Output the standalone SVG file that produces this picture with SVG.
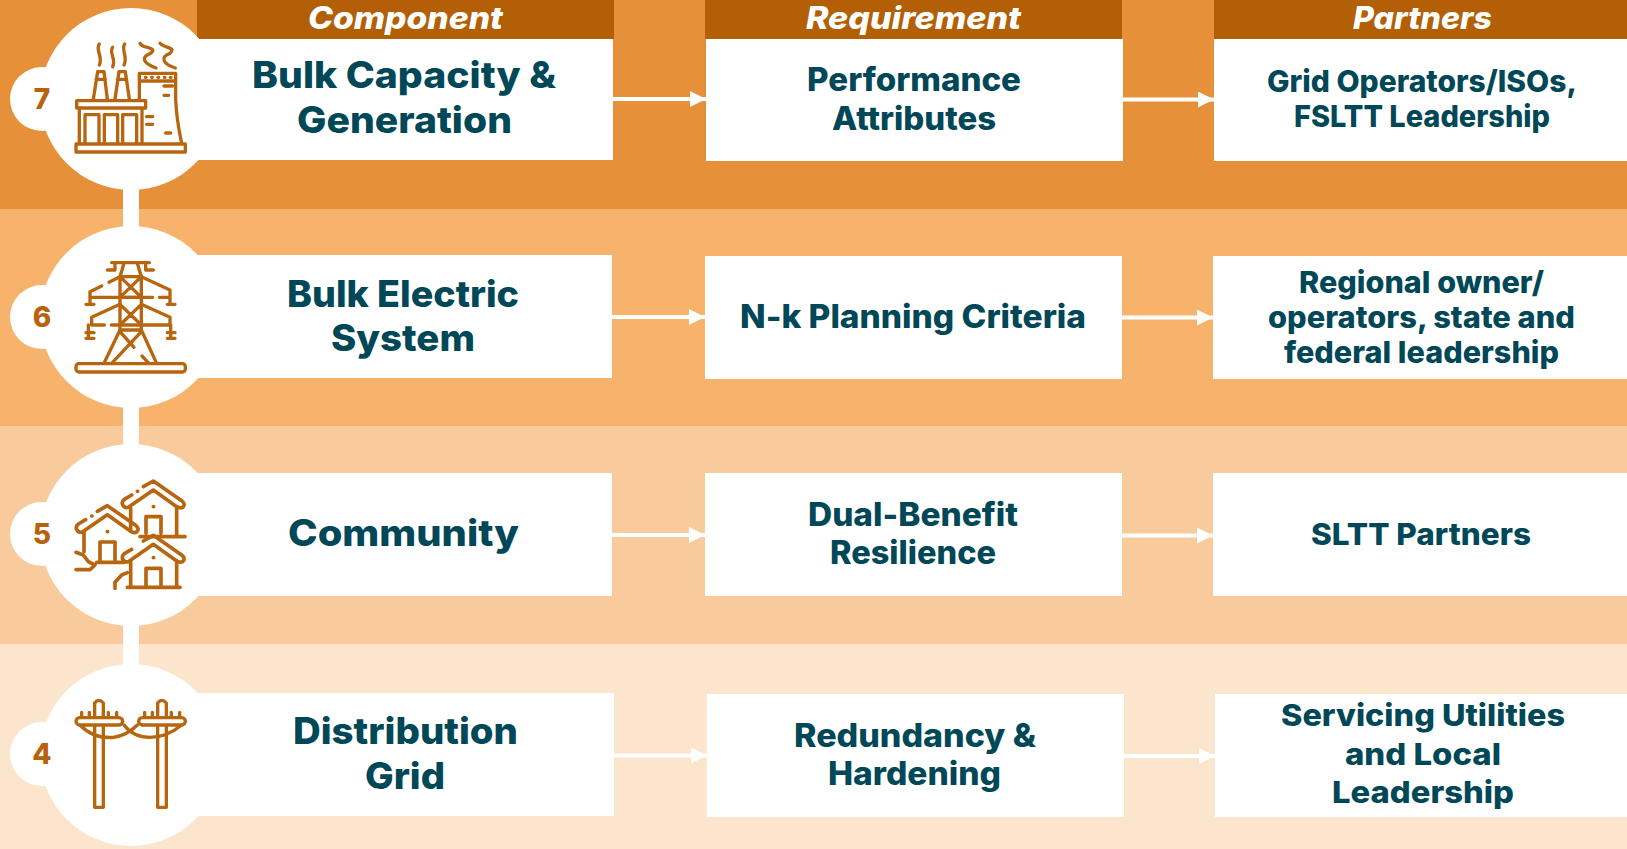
<svg xmlns="http://www.w3.org/2000/svg" width="1627" height="849" viewBox="0 0 1627 849">
<style>
text{font-family:"Inter","Liberation Sans",sans-serif;}
.box{fill:#fff}
.hd{fill:#B35F06}
.ht{fill:#fff;font-size:31px;font-weight:800;font-style:italic}
.l{fill:#004757;font-size:37px;font-weight:800}
.m{fill:#004757;font-size:32px;font-weight:800}
.p{fill:#004757;font-size:30px;font-weight:800}
.n{fill:#B8630C;font-size:28px;font-weight:800;text-anchor:middle}
.ic{fill:none;stroke:#B8650F;stroke-width:10;stroke-linecap:round;stroke-linejoin:round}
.ic .f{fill:#fff}
.a{stroke:#fff;stroke-width:4;fill:none;marker-end:url(#ah)}
</style>
<defs>
<marker id="ah" markerUnits="userSpaceOnUse" markerWidth="16" markerHeight="16" refX="16" refY="8" orient="auto"><path d="M0 0L16 8L0 16Z" fill="#fff"/></marker>
<path id="roof" d="M395 195L378 205Q365 212 367 222Q372 236 385 232L460 180L530 230Q540 236 548 232Q558 222 545 212L460 153L430 170"/>
</defs>
<rect x="0" y="0" width="1627" height="209" fill="#E6913A"/>
<rect x="0" y="209" width="1627" height="217" fill="#F7B36B"/>
<rect x="0" y="426" width="1627" height="218" fill="#F9CB9C"/>
<rect x="0" y="644" width="1627" height="205" fill="#FCE5CD"/>
<rect x="123" y="180" width="16" height="490" fill="#fff"/>

<g id="connectors">
<path class="a" d="M613 99H706"/><path class="a" d="M1123 99.500H1214"/>
<path class="a" d="M612 317H705"/><path class="a" d="M1122 317.500H1213"/>
<path class="a" d="M612 535H705"/><path class="a" d="M1122 535.500H1213"/>
<path class="a" d="M614 755.500H707"/><path class="a" d="M1124 756H1215"/>
</g>

<g id="header-component"><rect class="hd" x="197" y="0" width="417" height="39"/><text class="ht" x="308" y="29" textLength="195" lengthAdjust="spacingAndGlyphs">Component</text></g>
<g id="header-requirement"><rect class="hd" x="705" y="0" width="417" height="39"/><text class="ht" x="806" y="29" textLength="215" lengthAdjust="spacingAndGlyphs">Requirement</text></g>
<g id="header-partners"><rect class="hd" x="1214" y="0" width="413" height="39"/><text class="ht" x="1353" y="29" textLength="139" lengthAdjust="spacingAndGlyphs">Partners</text></g>

<g id="node-7">
<rect class="box" x="190" y="39" width="423" height="121"/>
<circle class="box" cx="131" cy="99" r="91"/><circle class="box" cx="42" cy="99" r="32"/>
<text class="n" x="42" y="109">7</text>
<g class="ic" transform="scale(.33333)">
<rect x="228" y="432" width="328" height="24"/><rect x="230" y="302" width="207" height="22"/>
<path d="M238 325V430M426 325V430M255 430V344H297V430M313 430V344H353V430M368 430V344H410V430"/>
<path d="M280 298L293 215H312L322 298M345 298L357 215H376L388 298M288 238H316M352 238H380"/>
<path d="M418 298V220H527V300Q530 360 545 430M418 243H527M436 232H438M455 232H457M474 232H476M493 232H495M511 232H513"/>
<path d="M492 258H518M492 286H506M440 350H458M440 373H458M497 399H512"/>
<path d="M298 132C285 150 310 170 298 195M338 142C325 160 350 175 338 200M374 132C362 150 385 170 372 195M420 130C430 148 475 140 452 160C420 172 430 190 468 204M480 130C492 145 530 140 510 160C478 172 490 192 526 204"/>
</g>
<text class="l" x="252" y="88" textLength="304" lengthAdjust="spacingAndGlyphs">Bulk Capacity &amp;</text>
<text class="l" x="297" y="133" textLength="215" lengthAdjust="spacingAndGlyphs">Generation</text>
</g>
<g id="req-7"><rect class="box" x="706" y="39" width="417" height="122"/>
<text class="m" x="807" y="91" textLength="214" lengthAdjust="spacingAndGlyphs">Performance</text><text class="m" x="832" y="130" textLength="164" lengthAdjust="spacingAndGlyphs">Attributes</text></g>
<g id="partner-7"><rect class="box" x="1214" y="39" width="413" height="122"/>
<text class="p" x="1267" y="92" textLength="310" lengthAdjust="spacingAndGlyphs">Grid Operators/ISOs,</text><text class="p" x="1294" y="127" textLength="256" lengthAdjust="spacingAndGlyphs">FSLTT Leadership</text></g>

<g id="node-6">
<rect class="box" x="190" y="255" width="422" height="123"/>
<circle class="box" cx="131" cy="317" r="91"/><circle class="box" cx="42" cy="317" r="32"/>
<text class="n" x="42" y="327">6</text>
<g class="ic" transform="translate(0 210) scale(.33333)">
<rect x="228" y="461" width="328" height="25" rx="9"/>
<path d="M335 158H448M322 180H345V165M460 180H437V165M372 160L360 200M412 160L424 200M360 200V360M424 200V360M360 200H424M360 262H424M360 200L424 262M424 200L360 262M360 283L424 345M424 283L360 345"/>
<path d="M270 262H458M478 262H510M424 200L510 240V282M360 200L327 217M305 228L270 245V282M258 283H282M502 283H525"/>
<path d="M360 283L275 322V345M424 283L510 322V345M275 345H313M334 345H510M265 345V385M512 345V385M258 368H282M258 385H282M502 368H525M502 385H525"/>
<path d="M360 360H424M360 360L312 460M424 360L470 460M360 365L402 412M424 365L335 460M426 438L447 460"/>
</g>
<text class="l" x="287" y="307" textLength="232" lengthAdjust="spacingAndGlyphs">Bulk Electric</text>
<text class="l" x="331" y="351" textLength="144" lengthAdjust="spacingAndGlyphs">System</text>
</g>
<g id="req-6"><rect class="box" x="705" y="256" width="417" height="123"/>
<text class="m" x="740" y="328" textLength="346" lengthAdjust="spacingAndGlyphs">N-k Planning Criteria</text></g>
<g id="partner-6"><rect class="box" x="1213" y="256" width="414" height="123"/>
<text class="p" x="1299" y="293" textLength="245" lengthAdjust="spacingAndGlyphs">Regional owner/</text><text class="p" x="1268" y="328" textLength="307" lengthAdjust="spacingAndGlyphs">operators, state and</text><text class="p" x="1284" y="363" textLength="275" lengthAdjust="spacingAndGlyphs">federal leadership</text></g>

<g id="node-5">
<rect class="box" x="190" y="473" width="422" height="123"/>
<circle class="box" cx="131" cy="535" r="91"/><circle class="box" cx="42" cy="534" r="32"/>
<text class="n" x="42" y="544">5</text>
<g class="ic" style="stroke-width:11" transform="translate(0 430) scale(.33333)">
<use href="#roof"/><path d="M392 235V300M530 232V318M420 320H555M438 310V260H483V310M412 184H413M460 230H461"/>
<g transform="translate(-138 74)"><use href="#roof"/></g>
<path d="M252 305V365M300 390V336H345V390M290 397H372M322 305H323M275 258H276M228 367L250 375L265 395L285 405L270 419H228M345 475V457L365 435L382 428"/>
<path class="f" stroke="none" d="M392 395V470H530V390L460 340Z"/>
<g transform="translate(0 163)"><use href="#roof"/></g>
<path d="M392 395V472M530 392V472M382 472H540M438 470V415H483V470M460 383H461"/>
</g>
<text class="l" x="288" y="546" textLength="231" lengthAdjust="spacingAndGlyphs">Community</text>
</g>
<g id="req-5"><rect class="box" x="705" y="473" width="417" height="123"/>
<text class="m" x="808" y="526" textLength="210" lengthAdjust="spacingAndGlyphs">Dual-Benefit</text><text class="m" x="830" y="564" textLength="166" lengthAdjust="spacingAndGlyphs">Resilience</text></g>
<g id="partner-5"><rect class="box" x="1213" y="473" width="414" height="123"/>
<text class="p" x="1311" y="545" textLength="220" lengthAdjust="spacingAndGlyphs">SLTT Partners</text></g>

<g id="node-4">
<rect class="box" x="190" y="693" width="424" height="123"/>
<circle class="box" cx="131" cy="755" r="91"/><circle class="box" cx="42" cy="754" r="32"/>
<text class="n" x="42" y="764">4</text>
<g class="ic" transform="translate(0 639) scale(.33333)">
<path d="M240 258Q280 300 340 295Q380 290 412 258M372 258Q400 295 450 295Q500 295 545 258"/>
<path d="M284 505V192Q296 176 310 192V505Z"/><path d="M473 505V192Q485 176 499 192V505Z"/>
<rect class="f" x="228" y="236" width="140" height="22" rx="11"/><rect class="f" x="416" y="236" width="140" height="22" rx="11"/>
<path d="M245 220V235M268 220V235M325 220V235M350 220V235M434 220V235M457 220V235M514 220V235M539 220V235"/>
</g>
<text class="l" x="293" y="744" textLength="225" lengthAdjust="spacingAndGlyphs">Distribution</text>
<text class="l" x="365" y="789" textLength="80" lengthAdjust="spacingAndGlyphs">Grid</text>
</g>
<g id="req-4"><rect class="box" x="707" y="694" width="417" height="123"/>
<text class="m" x="794" y="747" textLength="242" lengthAdjust="spacingAndGlyphs">Redundancy &amp;</text><text class="m" x="828" y="785" textLength="173" lengthAdjust="spacingAndGlyphs">Hardening</text></g>
<g id="partner-4"><rect class="box" x="1215" y="694" width="412" height="123"/>
<text class="p" x="1281" y="726" textLength="284" lengthAdjust="spacingAndGlyphs">Servicing Utilities</text><text class="p" x="1345" y="765" textLength="156" lengthAdjust="spacingAndGlyphs">and Local</text><text class="p" x="1332" y="803" textLength="182" lengthAdjust="spacingAndGlyphs">Leadership</text></g>
</svg>
